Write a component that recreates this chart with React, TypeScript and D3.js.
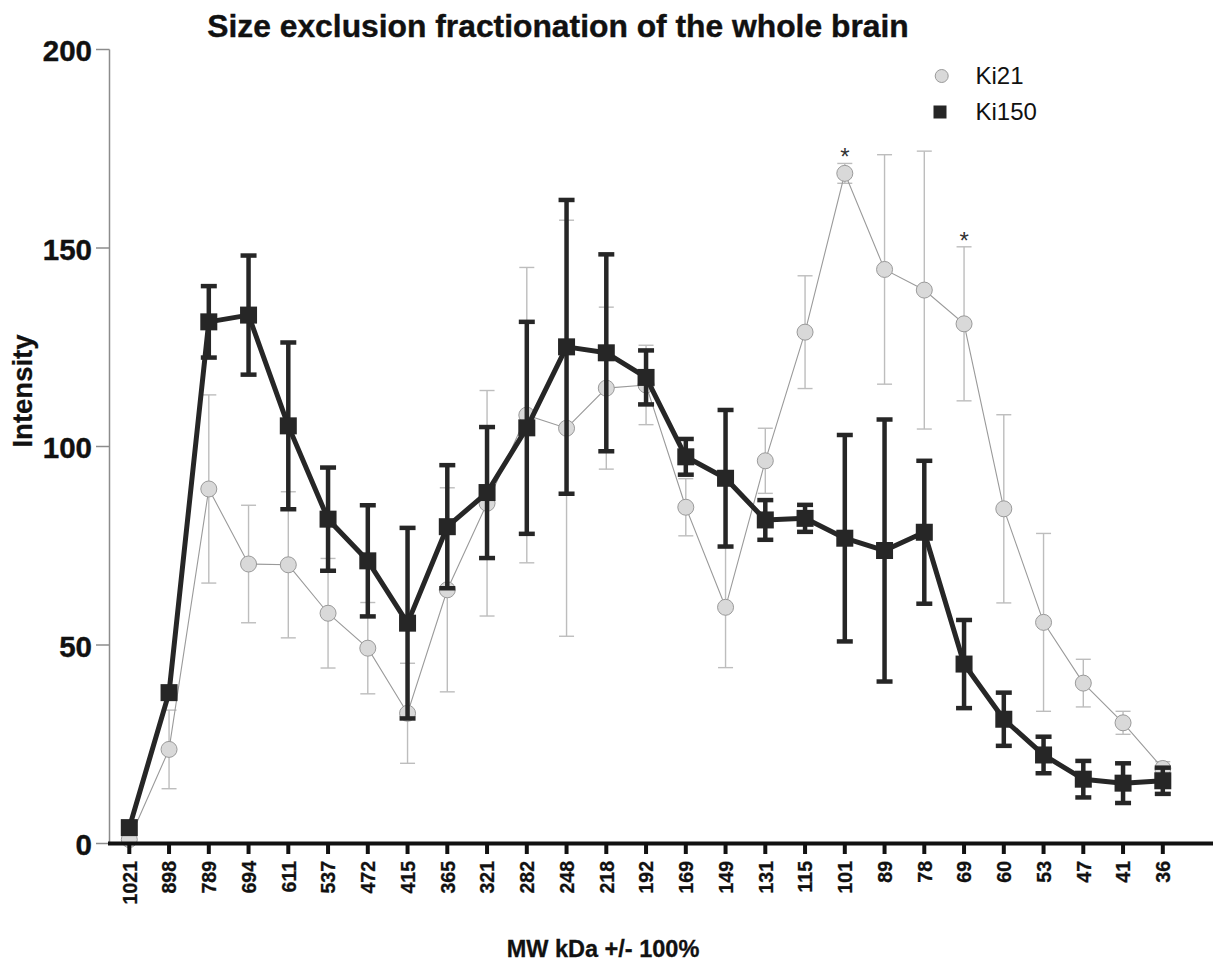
import React from "react";
import * as d3 from "d3";

// Molecular weight fractions (kDa)
const categories = [
  "1021", "898", "789", "694", "611", "537", "472", "415", "365", "321",
  "282", "248", "218", "192", "169", "149", "131", "115", "101", "89",
  "78", "69", "60", "53", "47", "41", "36",
];

// Ki21 mean intensity and error
const ki21Values = [
  1.0, 23.7, 89.3, 70.4, 70.2, 58.0, 49.2, 32.8, 63.9, 85.7,
  107.9, 104.6, 114.7, 115.5, 84.7, 59.5, 96.4, 128.8, 168.8, 144.6,
  139.4, 130.9, 84.3, 55.7, 40.4, 30.4, 18.9,
];
const ki21Errors = [
  0, 9.9, 23.7, 14.8, 18.4, 13.8, 11.5, 12.6, 25.7, 28.4,
  37.2, 52.4, 20.4, 10.0, 7.2, 15.2, 8.2, 14.2, 2.5, 28.9,
  35.0, 19.4, 23.7, 22.4, 6.0, 2.9, 1.7,
];

// Ki150 mean intensity and error
const ki150Values = [
  4.0, 38.0, 131.4, 133.1, 105.2, 81.7, 71.2, 55.5, 79.8, 88.4,
  104.7, 125.1, 123.6, 117.4, 97.4, 92.0, 81.5, 81.9, 76.9, 73.8,
  78.4, 45.2, 31.3, 22.3, 16.2, 15.2, 15.8,
];
const ki150Errors = [
  0, 0, 9.0, 15.0, 21.0, 13.0, 14.0, 24.0, 15.5, 16.5,
  26.7, 37.0, 24.8, 6.8, 4.5, 17.2, 5.0, 3.4, 26.0, 33.0,
  18.0, 11.1, 6.7, 4.6, 4.6, 5.0, 3.3,
];

// Fractions marked as significant
const significant = ["101", "69"];

const yTicks = [0, 50, 100, 150, 200];

const FONT = "'Liberation Sans', Arial, Helvetica, sans-serif";
const DARK = "#262626";

export default function App() {
  const width = 1213;
  const height = 961;

  const x = d3.scalePoint<string>().domain(categories).range([129.3, 1162.8]);
  const y = d3.scaleLinear().domain([0, 200]).range([843.5, 49.5]);

  const xAt = (i: number) => x(categories[i]) as number;

  const line21 = d3
    .line<number>()
    .x((_, i) => xAt(i))
    .y((d) => y(d))(ki21Values) as string;

  const line150 = d3
    .line<number>()
    .x((_, i) => xAt(i))
    .y((d) => y(d))(ki150Values) as string;

  const sq = 17;

  return (
    <svg
      width={width}
      height={height}
      style={{ position: "absolute", left: 0, top: 0, background: "#fff" }}
      fontFamily={FONT}
    >
      <rect width={width} height={height} fill="#fff" />

      {/* title */}
      <text x={558} y={37} textAnchor="middle" fontSize={31.8} fontWeight="bold" fill="#111"
        stroke="#111" strokeWidth={0.4}>
        Size exclusion fractionation of the whole brain
      </text>

      {/* y axis */}
      <line x1={109.5} x2={109.5} y1={y(200)} y2={y(0)} stroke="#8c8c8c" strokeWidth={1.5} />
      {yTicks.map((t) => (
        <g key={t}>
          <line x1={96} x2={109.5} y1={y(t)} y2={y(t)} stroke="#8c8c8c" strokeWidth={1.5} />
          <text x={92} y={y(t) + 11.5} textAnchor="end" fontSize={29.5} fontWeight="bold" fill="#111"
            stroke="#111" strokeWidth={0.4}>
            {t}
          </text>
        </g>
      ))}
      <text
        transform={`translate(32,391) rotate(-90)`}
        textAnchor="middle"
        fontSize={27.5}
        fontWeight="bold"
        fill="#111"
        stroke="#111"
        strokeWidth={0.3}
      >
        Intensity
      </text>

      {/* Ki21 series: error bars, line, markers */}
      <g>
        {ki21Values.map((v, i) => {
          const e = ki21Errors[i];
          if (!e) return null;
          const cx = xAt(i);
          return (
            <g key={i} stroke="#bdbdbd" strokeWidth={1.4}>
              <line x1={cx} x2={cx} y1={y(v + e)} y2={y(v - e)} />
              <line x1={cx - 7.5} x2={cx + 7.5} y1={y(v + e)} y2={y(v + e)} />
              <line x1={cx - 7.5} x2={cx + 7.5} y1={y(v - e)} y2={y(v - e)} />
            </g>
          );
        })}
        <path d={line21} fill="none" stroke="#9a9a9a" strokeWidth={1.1} />
        {ki21Values.map((v, i) => (
          <circle key={i} cx={xAt(i)} cy={y(v)} r={8} fill="#d9d9d9" stroke="#9a9a9a" strokeWidth={1} />
        ))}
      </g>

      {/* Ki150 series: error bars, line, markers */}
      <g>
        {ki150Values.map((v, i) => {
          const e = ki150Errors[i];
          if (!e) return null;
          const cx = xAt(i);
          return (
            <g key={i} stroke={DARK} strokeWidth={4.5}>
              <line x1={cx} x2={cx} y1={y(v + e)} y2={y(v - e)} />
              <line x1={cx - 8} x2={cx + 8} y1={y(v + e)} y2={y(v + e)} />
              <line x1={cx - 8} x2={cx + 8} y1={y(v - e)} y2={y(v - e)} />
            </g>
          );
        })}
        <path d={line150} fill="none" stroke={DARK} strokeWidth={5} strokeLinejoin="round" />
        {ki150Values.map((v, i) => (
          <rect key={i} x={xAt(i) - sq / 2} y={y(v) - sq / 2} width={sq} height={sq} fill={DARK} />
        ))}
      </g>

      {/* significance marks */}
      {significant.map((c) => {
        const i = categories.indexOf(c);
        const top = Math.max(ki21Values[i] + ki21Errors[i], ki150Values[i] + ki150Errors[i]);
        return (
          <text key={c} x={xAt(i)} y={y(top) + 2} textAnchor="middle" fontSize={24} fill="#333">
            *
          </text>
        );
      })}

      {/* x axis */}
      <line x1={108} x2={1213} y1={843.5} y2={843.5} stroke="#111" strokeWidth={4} />
      {categories.map((c) => (
        <g key={c}>
          <line x1={x(c)} x2={x(c)} y1={843.5} y2={854} stroke="#111" strokeWidth={4} />
          <text
            transform={`translate(${x(c)},861) rotate(-90)`}
            textAnchor="end"
            dy="0.37em"
            fontSize={19.5}
            fontWeight="bold"
            fill="#111"
            stroke="#111"
            strokeWidth={0.3}
          >
            {c}
          </text>
        </g>
      ))}
      <text x={603} y={957} textAnchor="middle" fontSize={23.5} fontWeight="bold" fill="#111"
        stroke="#111" strokeWidth={0.3}>
        MW kDa +/- 100%
      </text>

      {/* legend */}
      <circle cx={941.7} cy={76} r={6.5} fill="#d9d9d9" stroke="#9a9a9a" strokeWidth={1} />
      <text x={975.5} y={83.5} fontSize={24} fill="#111">
        Ki21
      </text>
      <rect x={933.5} y={105.5} width={13} height={13} fill={DARK} />
      <text x={975.5} y={119.5} fontSize={24} fill="#111">
        Ki150
      </text>
    </svg>
  );
}
